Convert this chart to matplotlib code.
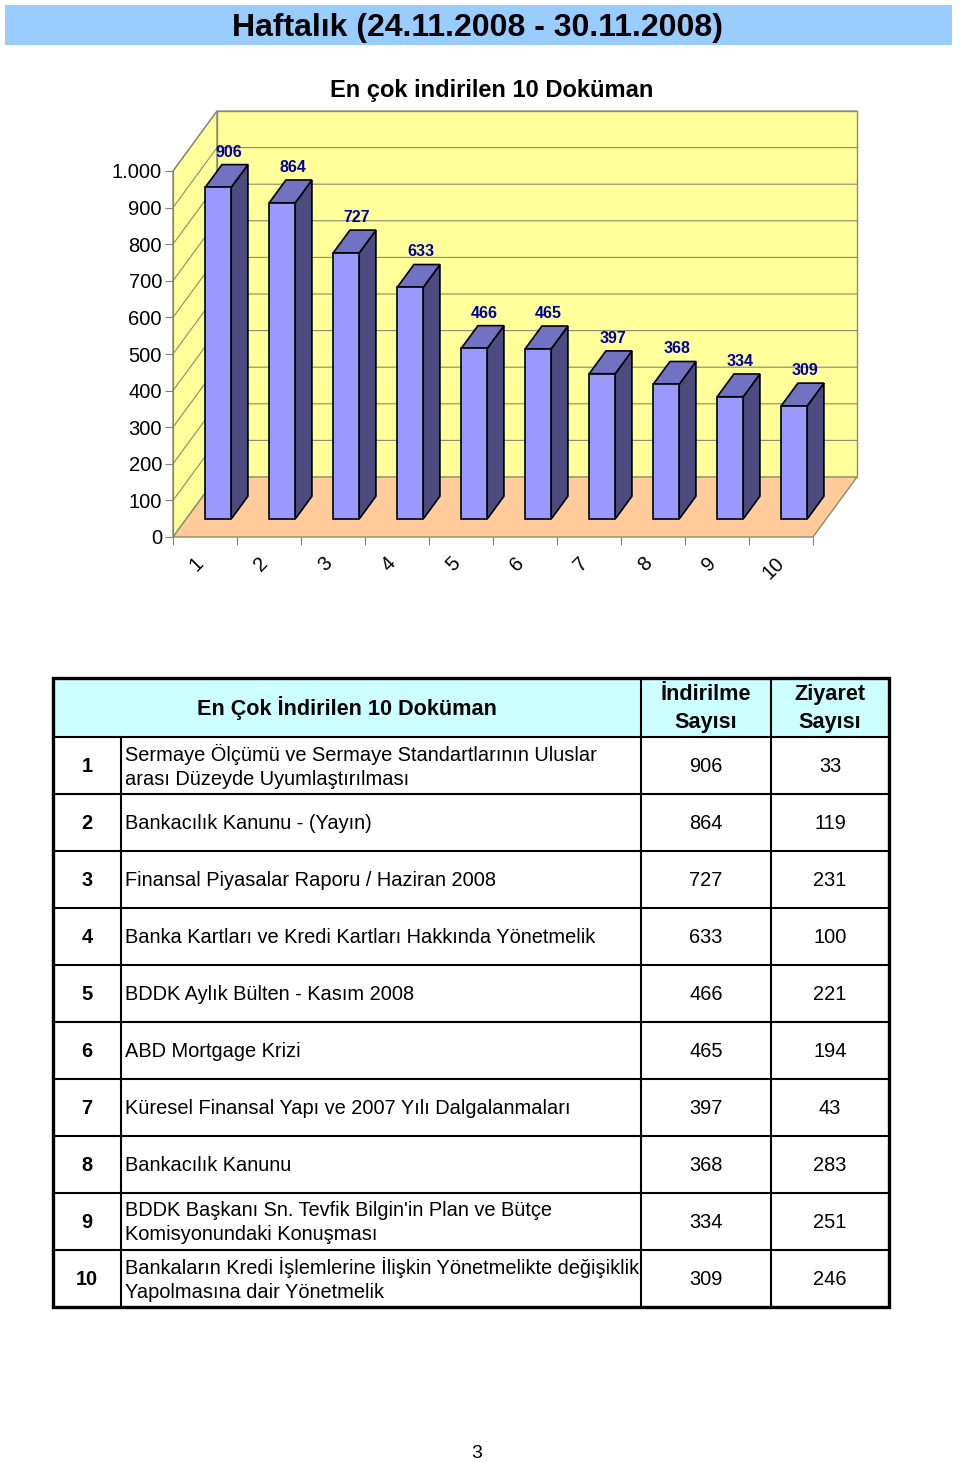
import numpy as np
import matplotlib.pyplot as plt
import matplotlib.transforms as mtransforms
from matplotlib.patches import Polygon, Rectangle
from matplotlib.ticker import FuncFormatter

plt.rcParams['font.family'] = ['Liberation Sans', 'DejaVu Sans']

# data
ranks = list(range(1, 11))
documents = [
    "Sermaye Ölçümü ve Sermaye Standartlarının Uluslar\narası Düzeyde Uyumlaştırılması",
    "Bankacılık Kanunu - (Yayın)",
    "Finansal Piyasalar Raporu / Haziran 2008",
    "Banka Kartları ve Kredi Kartları Hakkında Yönetmelik",
    "BDDK Aylık Bülten - Kasım 2008",
    "ABD Mortgage Krizi",
    "Küresel Finansal Yapı ve 2007 Yılı Dalgalanmaları",
    "Bankacılık Kanunu",
    "BDDK Başkanı Sn. Tevfik Bilgin'in Plan ve Bütçe\nKomisyonundaki Konuşması",
    "Bankaların Kredi İşlemlerine İlişkin Yönetmelikte değişiklik\nYapolmasına dair Yönetmelik",
]
downloads = [906, 864, 727, 633, 466, 465, 397, 368, 334, 309]
visits = [33, 119, 231, 100, 221, 194, 43, 283, 251, 246]
y_ticks = list(range(0, 1001, 100))

title = "Haftalık (24.11.2008 - 30.11.2008)"
chart_title = "En çok indirilen 10 Doküman"
table_title = "En Çok İndirilen 10 Doküman"
col_heads = ["İndirilme\nSayısı", "Ziyaret\nSayısı"]

W, H = 960, 1462
fig = plt.figure(figsize=(W / 100, H / 100), dpi=100)


def px_axes(x0, y0, x1, y1):
    # axes placed by pixel box (top-left origin)
    return fig.add_axes([x0 / W, 1 - y1 / H, (x1 - x0) / W, (y1 - y0) / H])


# --- title band
fig.add_artist(Rectangle((5 / W, 1 - 45 / H), 947 / W, 40 / H,
                         transform=fig.transFigure, fc='#99CCFF', ec='none'))
fig.text(478 / W, 1 - 28 / H, title, ha='center', va='center',
         fontsize=23, weight='bold')
fig.text(492 / W, 1 - 90 / H, chart_title, ha='center', va='center',
         fontsize=17, weight='bold')

# --- pseudo 3d bar chart
n = len(downloads)
ymax = 1000
DX = 44 / 64          # depth shift in category units
DY = 60 * 1000 / 366  # depth shift in value units
f0, f1 = 0.3, 0.68    # bar front / back depth
bw = 26 / 64

ax = px_axes(173, 111, 857, 537)
ax.set_xlim(0, n + DX)
ax.set_ylim(0, ymax + DY)
ax.set_facecolor('none')
for s in ['top', 'right', 'bottom']:
    ax.spines[s].set_visible(False)
ax.spines['left'].set_bounds(0, ymax)
ax.spines['left'].set_color('#808080')

wall_c = '#FFFF99'
floor_c = '#FFCC99'
grid_c = '#8A8A70'
ax.add_patch(Polygon([(0, 0), (DX, DY), (DX, ymax + DY), (0, ymax)],
                     fc=wall_c, ec=grid_c, lw=1, clip_on=False, zorder=0))
ax.add_patch(Polygon([(DX, DY), (n + DX, DY), (n + DX, ymax + DY), (DX, ymax + DY)],
                     fc=wall_c, ec=grid_c, lw=1, clip_on=False, zorder=0))
ax.add_patch(Polygon([(0, 0), (n, 0), (n + DX, DY), (DX, DY)],
                     fc=floor_c, ec=grid_c, lw=1, clip_on=False, zorder=0.5))
for v in y_ticks[1:]:
    ax.plot([0, DX, n + DX], [v, v + DY, v + DY], color=grid_c, lw=0.8,
            zorder=0.2, clip_on=False)


def pt(x, y, d):
    return (x + d * DX, y + d * DY)


for i, v in enumerate(downloads):
    c = i + 0.5
    xl, xr = c - bw / 2, c + bw / 2
    front = [pt(xl, 0, f0), pt(xr, 0, f0), pt(xr, v, f0), pt(xl, v, f0)]
    side = [pt(xr, 0, f0), pt(xr, 0, f1), pt(xr, v, f1), pt(xr, v, f0)]
    top = [pt(xl, v, f0), pt(xr, v, f0), pt(xr, v, f1), pt(xl, v, f1)]
    for poly, col in [(side, '#4C4C80'), (top, '#7272C2'), (front, '#9999FF')]:
        ax.add_patch(Polygon(poly, fc=col, ec='black', lw=1.2, joinstyle='miter',
                             zorder=2, clip_on=False))
    ax.annotate(str(v), xy=pt(c, v, (f0 + f1) / 2), xytext=(2, 24),
                textcoords='offset pixels', ha='center', va='center',
                color='#000099', fontsize=11.5, weight='bold', zorder=3)

ax.set_yticks(y_ticks)
ax.yaxis.set_major_formatter(FuncFormatter(lambda v, p: f"{int(v):,}".replace(',', '.')))
ax.tick_params(axis='y', length=6, color='#808080', labelsize=14.5, pad=2)

ax.set_xticks(np.arange(0, n + 1))
ax.set_xticklabels([])
ax.set_xticks(np.arange(n) + 0.5, minor=True)
ax.set_xticklabels([str(r) for r in ranks], minor=True)
ax.tick_params(axis='x', which='major', length=6, color='#808080', direction='out')
ax.tick_params(axis='x', which='minor', length=0, labelsize=14.5,
               labelrotation=45, pad=12)
shift = mtransforms.ScaledTranslation(-8 / 100, 0, fig.dpi_scale_trans)
for lab in ax.get_xticklabels(minor=True):
    lab.set_transform(lab.get_transform() + shift)

# --- table
tb = px_axes(53, 678, 889, 1307)
col_x = [0, 68, 588, 718, 836]
head_h, row_h = 59, 57
total_h = head_h + row_h * n
tb.set_xlim(0, col_x[-1])
tb.set_ylim(total_h, 0)
tb.axis('off')

tb.add_patch(Rectangle((0, 0), col_x[-1], head_h, fc='#CCFFFF', ec='none'))
inner = 1.5
for k in range(n):
    y = head_h + k * row_h
    tb.plot([0, col_x[-1]], [y, y], color='black', lw=inner)
tb.plot([col_x[1]] * 2, [head_h, total_h], color='black', lw=inner)
for cx in col_x[2:4]:
    tb.plot([cx, cx], [0, total_h], color='black', lw=inner)
tb.add_patch(Rectangle((0, 0), col_x[-1], total_h, fc='none', ec='black',
                       lw=2.4, clip_on=False))

tb.text(col_x[2] / 2, head_h / 2, table_title, ha='center', va='center',
        fontsize=15.6, weight='bold')
for j, head in enumerate(col_heads):
    tb.text((col_x[2 + j] + col_x[3 + j]) / 2, head_h / 2 + 1, head, ha='center',
            va='center', fontsize=15.6, weight='bold', linespacing=1.4)

for k in range(n):
    yc = head_h + row_h * (k + 0.5)
    tb.text(col_x[1] / 2, yc + 1, str(ranks[k]), ha='center', va='center',
            fontsize=14.4, weight='bold')
    tb.text(col_x[1] + 4, yc + 1, documents[k], ha='left', va='center',
            fontsize=14.4, linespacing=1.3)
    tb.text((col_x[2] + col_x[3]) / 2, yc + 1, str(downloads[k]), ha='center',
            va='center', fontsize=14.4)
    tb.text((col_x[3] + col_x[4]) / 2, yc + 1, str(visits[k]), ha='center',
            va='center', fontsize=14.4)

fig.text(477 / W, 1 - 1454 / H, "3", ha='center', va='center', fontsize=14)

fig.savefig('out.png', dpi=100)
